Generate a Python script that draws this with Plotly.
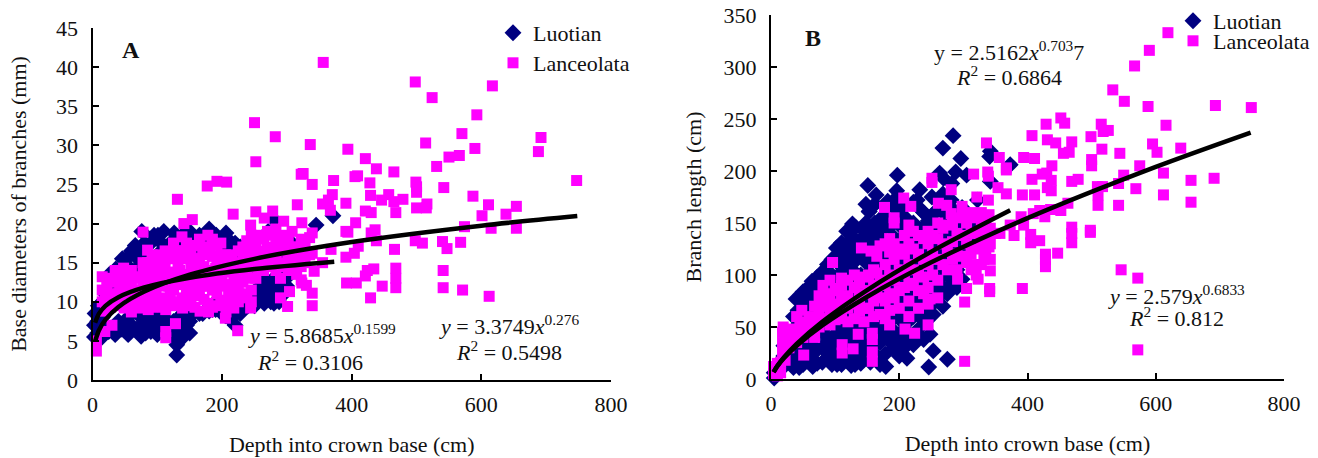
import plotly.graph_objects as go

SERIF = "Liberation Serif"
NAVY = "#000080"
PINK = "#FF00FF"

series_names = ["Luotian", "Lanceolata"]
x_ticks = [0, 200, 400, 600, 800]
a_y_ticks = [0, 5, 10, 15, 20, 25, 30, 35, 40, 45]
b_y_ticks = [0, 50, 100, 150, 200, 250, 300, 350]

# Panel A: (depth, base diameter) pairs
a_luotian = [
 (3,5.5),(3,7),(4,8.5),(8,6),(8,7.5),(9,9.5),(15,5.5),(15,8),(16,10),(25,6.2),(25,10.5),(26,13.5),
 (35,5.8),(35,11),(36,14.2),(45,6.5),(45,13),(46,15.5),(55,5.8),(55,8),(56,15.8),(64,9),(65,14),(66,17.2),(65,16),
 (75,5.6),(75,6.8),(75,8),(76,19),(74,16),(90,7.2),(90,6.2),(91,15),(90,17.5),(100,5.8),(100,7),(101,18.5),(100,16),
 (110,19),(110,6.5),(111,8),(109,17.3),(125,5.5),(125,7.5),(126,18.8),(130,3.2),(130,4.5),(140,5.5),(140,6.5),(140,8.5),
 (141,18.7),(139,17),(150,6),(150,7.5),(150,19),(151,17.5),(165,8.5),(165,18.5),(164,16.5),(180,8.8),(180,17.5),(180,19.3),
 (190,9),(190,10),(191,18.5),(205,8.2),(205,9),(206,18.8),(205,17),(220,7),(220,8.5),(220,17.5),(221,16),(235,9.2),(235,10),
 (236,17),(250,9.5),(250,11),(251,16.5),(250,14),(265,9.8),(265,11),(265,13),(266,16),(280,9.8),(280,11),(280,13),(281,15),
 (280,20.5),(295,11),(295,13),(296,16),(295,17),(305,13.5),(305,17.7),(300,12),(345,19.8),(371,21),(271,19),(258,12),(272,12),
 (12,7),(20,7),(30,6.5),(40,7.5),(50,7),(60,7),(68,6.5),(82,6),(82,7.5),(95,8),(105,8),(118,6),(118,7),(133,6.5),(133,8),(145,7),
 (155,8.5),(170,8.5),(185,9),(200,8.5),(212,7.8),(228,8.5),(240,9.5),(255,10),(262,12),(275,10),(288,10),(288,12),(295,14.5),(285,17),
 (40,13),(30,12),(20,11),(55,14.5),(60,16.5),(70,15.5),(80,17.5),(95,18.5),(120,17.5),(135,17),(160,18),(175,18),(200,18),(215,17.5),
 (228,17),(243,15.5),
]
a_lanceolata = [
 (356,40.6),(250,32.9),(282,31.1),(336,30.1),(252,27.9),(394,29.5),(421,28.3),(498,38.1),(524,36.1),(617,37.6),(593,33.9),
 (570,31.5),(514,30.3),(590,29.6),(688,29.2),(692,31),(747,25.5),(531,27.3),(550,28.5),(566,28.7),(438,27),(465,26.6),(409,26.1),
 (405,26),(325,26.4),(322,26.3),(372,25.5),(428,25.2),(339,25),(499,25.3),(500,24.7),(500,24),(542,24.6),(587,23.5),(611,22.4),
 (654,22.2),(638,21.2),(601,21),(574,19.6),(615,19.4),(654,19.4),(131,23.1),(177,24.8),(192,25.4),(207,25.3),(217,21.2),(252,21.5),
 (154,20.5),(141,20),(244,19.8),(265,20.7),(278,21.6),(295,20.3),(316,22.4),(323,20.1),(370,23.7),(364,23),(355,22.5),(367,21.7),
 (391,22.6),(429,23.6),(446,23),(457,23.7),(465,22.8),(479,23.1),(421,21.6),(430,21.4),(468,21.4),(500,22),(516,22.5),(515,22),
 (406,20.1),(391,19),(436,19.2),(394,18.9),(430,18.8),(438,17.8),(498,17.8),(509,17.5),(540,17.7),(547,16.8),(568,17.6),(466,16.7),
 (410,17.1),(404,16.2),(391,15.7),(368,16.7),(355,15),(339,18.8),(339,16.2),(342,13.9),(434,14.2),(424,14),(421,13.3),(468,14.3),
 (468,13),(392,12.4),(407,12.4),(447,12),(468,11.8),(541,14),(541,11.8),(571,11.5),(612,10.7),(429,10.5),(339,11.1),(339,9.5),
 (323,12.4),(330,12.1),(304,11.3),(290,10.5),(301,9.4),(244,9.2),(205,7.9),(224,6.3),(128,7.2),(113,6.2),(113,5.4),(19,6.2),
 (6,3.7),(6,5),(30,7),(78,18.9),
 (15,13.2),(15,11.5),(15,10),(22,12),(22,10),(20,8.8),(35,14),(35,12.5),(36,11),(35,9.5),(48,14.3),(48,13),(48,11.3),(49,9.2),
 (60,14),(60,12.2),(61,10.3),(60,8.7),(72,13.2),(72,11.5),(72,9.2),(85,16.6),(85,15),(85,13.5),(85,11),(86,9),(98,15),(98,13),
 (98,11.2),(99,9.3),(112,16.5),(112,14.8),(112,12.5),(112,10.5),(113,9),(125,17.5),(125,15.5),(125,13.5),(125,11.5),(126,9.5),
 (138,18.3),(138,15.5),(138,12.8),(138,10.5),(139,9.2),(152,16.5),(152,14.5),(152,12),(152,10),(165,18),(165,15.5),(165,13.2),
 (165,10.8),(166,8.8),(178,18.5),(178,16.5),(178,14),(178,12),(178,9.8),(179,8.7),(192,17.3),(192,15.2),(192,13),(192,11),(192,9.5),
 (205,16),(205,14),(205,12.2),(205,10),(206,8.7),(218,15),(218,13),(218,11),(218,9.2),(232,17),(232,15.5),(232,12.5),(232,10.5),
 (245,18.5),(245,16.5),(245,14.5),(245,11.5),(245,10),(258,18.5),(258,16.5),(258,14.5),(270,19),(270,17),(270,15),(283,19.3),
 (283,17.5),(283,15.5),(283,14),(296,18.5),(296,16.5),(296,14.5),(308,19),(308,17),(308,15),(322,18),(322,16),(322,14.5),(322,12.8),
 (335,18.2),(335,16),
 (28,13),(28,11),(28,9.3),(42,13.5),(42,12),(42,10.2),(55,13.2),(55,11),(55,9.5),(66,13),(66,11.5),(66,9.8),(78,15),(78,14),(78,12.3),
 (78,10.2),(92,16),(92,14),(92,12),(92,10),(105,16),(105,14),(105,12),(105,10.2),(118,15.8),(118,13.8),(118,12),(118,10),(132,16.5),
 (132,14.5),(132,12.2),(132,10),(145,17.5),(145,15.5),(145,13.5),(145,11),(145,9.5),(158,17.2),(158,15.5),(158,13),(158,11),(158,9.3),
 (172,17),(172,14.5),(172,12.5),(172,10.3),(185,18),(185,15.8),(185,13.5),(185,11.5),(185,9.3),(198,17.5),(198,16),(198,14),(198,12),
 (198,10.2),(212,15.5),(212,13.8),(212,11.8),(212,10),(225,16.5),(225,14),(225,12),(225,10),(238,17.8),(238,16),(238,13.5),(238,11),
 (252,17.5),(252,15.5),(252,13),(264,18),(264,16),(264,14),(276,18.5),(276,16),(276,14.5),(290,18),(290,16.5),(290,15),(290,13),
 (302,18),(302,16),(302,14),(315,17),(315,15.5),(315,13.5),(328,17),(328,15),
 (20,10.8),(30,10),(40,11),(52,12),(62,11),(70,10.2),(82,12.5),(95,11),(100,13.8),(110,13),(120,11),(128,12.5),(135,14),(142,12.2),
 (150,13.3),(160,14.3),(168,12),(175,13),(185,12.5),(190,14.3),(200,13),(210,11),(210,15),(222,13),(228,11),(235,14.5),(242,13),
 (255,14),(262,15),(270,16),(280,16.8),(295,17.3),(305,15.5),(315,14.5),(112,15.5),(128,16.5),(142,16.5),(170,16),(182,17),(200,15),(215,16),
]
a_luotian_fit = [(4,7.33),(10,8.48),(20,9.47),(40,10.58),(80,11.83),(150,13.08),(250,14.19),(373,15.13)]
a_lanceolata_fit = [(4,4.95),(10,6.37),(20,7.71),(40,9.34),(80,11.31),(150,13.46),(250,15.49),(400,17.64),(600,19.73),(748,20.96)]

# Panel B: (depth, branch length) pairs
b_luotian = [
 (5,1),(5,6),(10,5),(20,12),(20,22),(20,32),(35,11),(35,20),(35,30),(35,45),(35,60),(39,77),(50,14),(50,26),(50,40),(50,55),(50,70),(50,84),
 (65,12),(65,25),(65,38),(65,52),(65,68),(65,82),(64,94),(80,16),(80,30),(80,45),(80,60),(80,75),(80,90),(80,103),
 (95,14),(95,26),(95,40),(95,55),(95,70),(95,85),(95,100),(95,115),(110,14),(110,28),(110,44),(110,60),(110,76),(110,92),(110,108),(110,122),(110,131),
 (125,13),(125,27),(125,42),(125,58),(125,74),(125,90),(125,106),(125,122),(125,138),(127,149),(140,15),(140,30),(140,48),(140,66),(140,84),(140,100),
 (140,118),(140,134),(144,143),(155,16),(155,32),(155,50),(155,68),(155,86),(155,104),(155,122),(155,140),(153,161),(170,14),(170,35),(170,52),(170,70),
 (170,88),(170,106),(170,124),(170,142),(176,157),(179,12),(185,36),(185,55),(185,73),(185,92),(185,110),(185,128),(185,146),(182,171),
 (200,22),(200,40),(200,58),(200,76),(200,94),(200,112),(200,130),(200,148),(196,162),(212,20),(215,38),(215,56),(215,72),(215,90),(215,110),(215,128),(215,146),(215,151),
 (222,33),(230,48),(230,66),(230,84),(230,102),(230,120),(230,138),(235,162),(246,11.5),(248,43),(245,62),(245,80),(245,98),(245,116),(245,134),(245,152),(253,27),
 (253,62),(260,78),(260,95),(260,112),(260,130),(260,148),(255,160),(251,175),(275,19),(275,82),(275,100),(275,118),(275,136),(275,150),(281,172),
 (290,88),(290,105),(290,122),(290,140),(290,158),(305,125),(305,140),(305,155),(284,234),(268,222),(296,212),(288,199),(305,196),(263,198),(269,193),
 (342,219),(341,214),(373,206),(342,190),(322,172),(197,196),(151,186),(164,177),(196,181),(232,182),(228,172),(153,161),(176,157),(131,14),(103,14),(44,11),
 (28,18),(28,30),(28,42),(42,16),(42,28),(42,38),(42,52),(42,66),(58,18),(58,32),(58,46),(58,62),(58,76),(58,88),(72,15),(72,28),(72,44),(72,58),(72,74),(72,90),(72,98),
 (88,20),(88,36),(88,52),(88,66),(88,82),(88,96),(88,110),(102,20),(102,34),(102,50),(102,66),(102,82),(102,98),(102,114),(102,126),(118,20),(118,36),(118,50),(118,66),
 (118,82),(118,98),(118,114),(118,130),(118,142),(132,20),(132,36),(132,50),(132,66),(132,82),(132,98),(132,114),(132,130),(132,146),(148,22),(148,40),(148,58),(148,76),
 (148,94),(148,112),(148,130),(148,150),(148,168),(162,24),(162,42),(162,60),(162,78),(162,96),(162,114),(162,132),(162,150),(162,168),(178,24),(178,44),(178,62),(178,80),
 (178,98),(178,116),(178,134),(178,152),(178,166),(192,30),(192,46),(192,64),(192,82),(192,100),(192,118),(192,136),(192,154),(192,172),(208,30),(208,48),(208,66),(208,84),
 (208,102),(208,120),(208,138),(208,156),(208,166),(222,42),(222,60),(222,78),(222,96),(222,114),(222,132),(222,150),(222,170),(238,38),(238,56),(238,74),(238,92),(238,110),
 (238,128),(238,146),(238,160),(252,72),(252,88),(252,105),(252,122),(252,140),(252,158),(268,70),(268,88),(268,106),(268,124),(268,142),(268,160),(268,178),(282,92),(282,110),
 (282,128),(282,146),(282,164),(282,188),(298,96),(298,115),(298,132),(298,150),(298,165),(312,130),(312,148),
]
b_lanceolata = [
 (619,333),(590,316),(567,301),(533,278),(551,267),(588,262),(693,263),(749,261),(616,244),(515,245),(518,238),(526,239),(499,233),(452,251),(458,246),
 (429,245),(407,234),(431,230),(444,227),(469,228),(456,217),(465,218),(516,221),(544,217),(595,226),(602,218),(639,222),(336,227),(394,213),(411,212),
 (356,213),(367,203),(367,201),(438,205),(500,211),(500,205),(575,205),(612,198),(550,196),(655,191),(691,193),(479,192),(469,190),(423,197),(430,198),
 (407,192),(437,191),(431,184),(437,181),(542,188),(569,183),(509,185),(517,185),(510,177),(612,177),(655,170),(510,167),(542,167),(392,177),(411,177),
 (367,178),(354,184),(339,172),(321,175),(338,199),(339,195),(316,197),(251,193),(251,189),(281,182),(207,174),(218,166),(177,165),(261,169),(274,167),
 (463,169),(452,162),(436,163),(419,162),(409,159),(427,156),(390,156),(373,148),(394,148),(469,146),(498,143),(192,155),(192,150),(340,158),(298,166),
 (281,159),(469,140),(498,141),(469,131),(447,121),(428,120),(428,115),(428,108),(419,133),(405,139),(405,131),(379,138),(357,140),(340,127),(332,115),
 (342,104),(341,87),(341,84),(392,87),(323,96),(305,87),(302,74),(302,17),(546,105),(572,97),(572,28),(291,96),(321,110),(245,52),(224,44),(209,48),
 (158,44),(158,38),(158,26),(158,17),(136,43),(111,33),(111,25),(128,29),(51,23),
 (4,5),(4,12),(10,3),(10,10),(10,15),(15,6),(15,16),(18,25),(18,35),(18,45),(19,50),(28,30),(28,42),(40,35),(40,47),(48,66),(40,60),(50,40),(50,53),
 (60,45),(60,60),(75,50),(75,62),(81,90),(75,80),(85,55),(85,70),(85,82),(96,112),(100,57),(100,72),(100,87),(110,60),(110,75),(110,90),(110,97),
 (130,58),(130,72),(130,88),(130,100),(145,55),(145,68),(145,82),(145,98),(141,126),(156,123),(160,60),(160,75),(160,90),(160,105),(170,62),(170,78),
 (170,95),(170,128),(185,52),(185,66),(185,82),(185,100),(185,122),(185,135),(200,68),(200,85),(200,105),(200,125),(215,60),(215,75),(215,92),(215,110),
 (215,130),(215,148),(230,68),(230,85),(230,100),(230,120),(230,138),(245,72),(245,88),(245,110),(245,130),(245,142),(260,78),(260,95),(260,115),(260,135),
 (260,150),(248,77),(275,105),(275,125),(275,148),(290,105),(290,120),(290,140),(290,155),(305,112),(305,130),(305,150),(320,100),(320,125),(320,140),
 (320,155),(335,120),(335,135),(335,150),(350,140),
 (22,18),(22,30),(22,42),(33,38),(33,48),(45,42),(45,55),(55,50),(68,40),(68,55),(68,70),(78,58),(78,72),
 (92,52),(92,65),(92,78),(92,95),(105,58),(105,70),(105,85),(120,55),(120,68),(120,80),(120,95),(138,65),(138,78),(138,92),(152,68),
 (152,85),(152,100),(165,85),(165,102),(165,118),(178,58),(178,75),(178,90),(178,110),(178,130),(192,78),(192,95),(192,115),(192,130),
 (208,88),(208,102),(208,120),(208,138),(222,90),(222,105),(222,125),(222,142),(238,82),(238,98),(238,115),(238,135),(252,100),
 (252,120),(252,138),(268,110),(268,130),(268,145),(283,115),(283,132),(283,150),(298,118),(298,138),(298,158),(312,105),
 (312,120),(312,140),(312,160),(328,110),(328,130),(328,145),(328,160),(342,115),(342,130),(342,145),
]
b_luotian_fit = [(4,6.7),(10,12.7),(20,20.7),(40,33.8),(80,55),(150,85.5),(250,122.5),(373,162.3)]
b_lanceolata_fit = [(4,6.65),(10,12.4),(20,20),(40,32),(80,51.5),(150,79.1),(250,112.2),(400,154.7),(600,204),(748,237)]

W, H = 1318, 458
fig = go.Figure()


def scatter(pairs, name, sym, col, size, xa, ya, legend):
    xs, ys = zip(*pairs)
    fig.add_trace(go.Scatter(x=xs, y=ys, mode="markers", name=name, xaxis=xa, yaxis=ya, legend=legend,
                             showlegend=True, cliponaxis=False,
                             marker=dict(symbol=sym, color=col, size=size, line=dict(width=0))))


def fit(pairs, xa, ya):
    xs, ys = zip(*pairs)
    fig.add_trace(go.Scatter(x=xs, y=ys, mode="lines", showlegend=False, xaxis=xa, yaxis=ya,
                             line=dict(color="black", width=4.5, shape="spline", smoothing=0.8)))


scatter(a_luotian, series_names[0], "diamond", NAVY, 13, "x", "y", "legend")
scatter(a_lanceolata, series_names[1], "square", PINK, 11, "x", "y", "legend2")
fit(a_luotian_fit, "x", "y")
fit(a_lanceolata_fit, "x", "y")
scatter(b_luotian, series_names[0], "diamond", NAVY, 13, "x2", "y2", "legend3")
scatter(b_lanceolata, series_names[1], "square", PINK, 11, "x2", "y2", "legend4")
fit(b_luotian_fit, "x2", "y2")
fit(b_lanceolata_fit, "x2", "y2")

axis = dict(showgrid=False, zeroline=False, showline=True, linecolor="black", linewidth=2, automargin=False,
            ticks="inside", ticklen=6, tickwidth=2, tickcolor="black",
            tickfont=dict(family=SERIF, size=22, color="#111"))
title_font = dict(family=SERIF, size=22, color="#111")


def note(text, x, y, xref, yref, size=22):
    fig.add_annotation(text=text, x=x, y=y, xref=xref, yref=yref, showarrow=False,
                       font=dict(family=SERIF, size=size, color="#111"))


note("<b>A</b>", 60, 42.2, "x", "y", 24)
note("<i>y</i> = 5.8685<i>x</i><sup>0.1599</sup>", 354, 5.9, "x", "y")
note("<i>R</i><sup>2</sup> = 0.3106", 335, 2.4, "x", "y")
note("<i>y</i> = 3.3749<i>x</i><sup>0.276</sup>", 643, 7, "x", "y")
note("<i>R</i><sup>2</sup> = 0.5498", 643, 3.7, "x", "y")
note("<b>B</b>", 65, 328, "x2", "y2", 24)
note("y = 2.5162<i>x</i><sup>0.703</sup>7", 371, 315, "x2", "y2")
note("<i>R</i><sup>2</sup> = 0.6864", 371, 291, "x2", "y2")
note("<i>y</i> = 2.579<i>x</i><sup>0.6833</sup>", 632, 81, "x2", "y2")
note("<i>R</i><sup>2</sup> = 0.812", 632, 60, "x2", "y2")


def legend_at(px, py_top):
    return dict(x=px / W, y=1 - py_top / H, xanchor="left", yanchor="top", itemwidth=30,
                font=dict(family=SERIF, size=22, color="#111"), bgcolor="rgba(0,0,0,0)")


fig.update_layout(
    width=W, height=H, margin=dict(l=0, r=0, t=0, b=0), paper_bgcolor="white", plot_bgcolor="white",
    showlegend=True,
    legend=legend_at(493, 12),
    legend2=legend_at(493, 42),
    legend3=legend_at(1173, 0),
    legend4=legend_at(1173, 20),
    xaxis=dict(domain=[92.5 / W, 611 / W], range=[0, 800], tickvals=x_ticks, anchor="y", ticklabelstandoff=4,
               title=dict(text="Depth into crown base (cm)", font=title_font, standoff=20), **axis),
    yaxis=dict(domain=[1 - 380 / H, 1 - 28 / H], range=[0, 45], tickvals=a_y_ticks, anchor="x", ticklabelstandoff=8,
               title=dict(text="Base diameters of branches (mm)", font=title_font, standoff=23), **axis),
    xaxis2=dict(domain=[771 / W, 1284 / W], range=[0, 800], tickvals=x_ticks, anchor="y2", ticklabelstandoff=4,
                title=dict(text="Depth into crown base (cm)", font=title_font, standoff=20), **axis),
    yaxis2=dict(domain=[1 - 379 / H, 1 - 15 / H], range=[0, 350], tickvals=b_y_ticks, anchor="x2", ticklabelstandoff=8,
                title=dict(text="Branch length (cm)", font=title_font, standoff=16), **axis),
)

fig.write_html("out.html", config={"displayModeBar": False}, post_script="document.body.style.margin='0';")
